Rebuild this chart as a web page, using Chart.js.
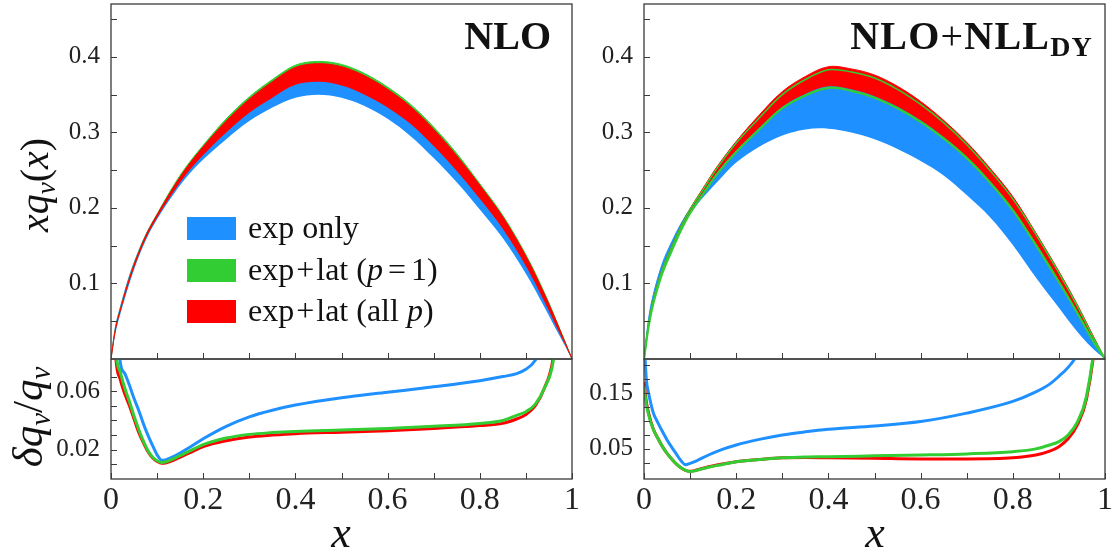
<!DOCTYPE html>
<html>
<head>
<meta charset="utf-8">
<script src="https://cdn.jsdelivr.net/npm/chart.js@4.4.1/dist/chart.umd.min.js"></script>
<style>
  body { margin: 0; background: #fff; }
  #wrap { position: relative; width: 1112px; height: 548px; overflow: hidden; font-family: 'Liberation Serif', serif; color: #111; }
  canvas { position: absolute; }
  .txt { position: absolute; white-space: nowrap; line-height: 1; }
  .sw { position: absolute; width: 49px; height: 23px; }
  .op { margin: 0 2px; }
  .rel { margin: 0 5px; }
</style>
</head>
<body>
<div id="wrap">
  <canvas id="tl" width="580" height="362" style="left:0;top:0"></canvas>
  <canvas id="tr" width="556" height="362" style="left:556px;top:0"></canvas>
  <canvas id="bl" width="580" height="192" style="left:0;top:356px"></canvas>
  <canvas id="br" width="556" height="192" style="left:556px;top:356px"></canvas>

  <div class="txt" style="right:561px;top:16px;font-size:40px;font-weight:bold">NLO</div>
  <div class="txt" style="right:19px;top:16px;font-size:40px;font-weight:bold;letter-spacing:1.2px">NLO<span style="font-weight:normal">+</span>NLL<sub style="font-size:28px;vertical-align:-7px">DY</sub></div>

  <div class="txt" style="left:37px;top:185px;font-size:40px;font-style:italic;transform:translate(-50%,-50%) rotate(-90deg)">xq<sub style="font-size:27px;vertical-align:-7px">v</sub><span style="font-style:normal">(</span>x<span style="font-style:normal">)</span></div>
  <div class="txt" style="left:30px;top:417px;font-size:43px;font-style:italic;transform:translate(-50%,-50%) rotate(-90deg)">δq<sub style="font-size:29px;vertical-align:-8px">v</sub><span style="font-style:normal">/</span>q<sub style="font-size:29px;vertical-align:-8px">v</sub></div>
  <div class="txt" style="left:341px;top:533px;font-size:44px;font-style:italic;transform:translate(-50%,-50%)">x</div>
  <div class="txt" style="left:875px;top:533px;font-size:44px;font-style:italic;transform:translate(-50%,-50%)">x</div>

  <div id="legend"></div>
</div>

<script>
const BLUE = '#1E90FF', GREEN = '#32CD32', RED = '#FF0000';

// x grid of the xq_v(x) bands
const xTop = [0, 0.01, 0.02, 0.04, 0.06, 0.08, 0.1, 0.13, 0.16, 0.2, 0.25, 0.3, 0.35, 0.4, 0.45, 0.5, 0.55, 0.6, 0.65, 0.7, 0.75, 0.8, 0.85, 0.9, 0.94, 0.97, 1];

// NLO bands
const nloExpLo = [0, 0.035, 0.059, 0.100, 0.135, 0.163, 0.185, 0.213, 0.238, 0.264, 0.291, 0.315, 0.333, 0.346, 0.350, 0.346, 0.335, 0.318, 0.295, 0.266, 0.234, 0.198, 0.160, 0.113, 0.069, 0.034, 0];
const nloExpHi = [0, 0.044, 0.068, 0.110, 0.143, 0.170, 0.190, 0.220, 0.247, 0.277, 0.309, 0.337, 0.359, 0.377, 0.381, 0.377, 0.365, 0.347, 0.325, 0.295, 0.261, 0.223, 0.182, 0.131, 0.082, 0.042, 0];
const nloP1Lo = [0, 0.039, 0.063, 0.104, 0.138, 0.166, 0.188, 0.217, 0.243, 0.271, 0.301, 0.327, 0.347, 0.364, 0.368, 0.363, 0.351, 0.334, 0.312, 0.283, 0.250, 0.213, 0.173, 0.124, 0.077, 0.039, 0];
const nloP1Hi = [0, 0.042, 0.066, 0.108, 0.142, 0.170, 0.192, 0.224, 0.252, 0.283, 0.318, 0.347, 0.370, 0.389, 0.394, 0.390, 0.378, 0.360, 0.337, 0.307, 0.272, 0.232, 0.190, 0.138, 0.088, 0.045, 0];
const nloAllLo = [0, 0.038, 0.062, 0.103, 0.137, 0.165, 0.187, 0.216, 0.242, 0.270, 0.300, 0.326, 0.346, 0.363, 0.367, 0.362, 0.350, 0.333, 0.311, 0.282, 0.249, 0.212, 0.172, 0.123, 0.076, 0.038, 0];
const nloAllHi = [0, 0.041, 0.065, 0.107, 0.141, 0.169, 0.191, 0.222, 0.250, 0.281, 0.315, 0.344, 0.367, 0.386, 0.391, 0.387, 0.375, 0.357, 0.334, 0.304, 0.269, 0.230, 0.188, 0.136, 0.086, 0.044, 0];

// NLO+NLL_DY bands
const nllExpLo = [0, 0.043, 0.073, 0.114, 0.143, 0.170, 0.192, 0.215, 0.235, 0.260, 0.281, 0.296, 0.304, 0.305, 0.300, 0.291, 0.278, 0.262, 0.243, 0.217, 0.188, 0.151, 0.108, 0.068, 0.036, 0.016, 0];
const nllExpHi = [0, 0.054, 0.085, 0.127, 0.155, 0.179, 0.199, 0.225, 0.251, 0.279, 0.309, 0.337, 0.354, 0.364, 0.360, 0.351, 0.337, 0.319, 0.297, 0.271, 0.239, 0.202, 0.156, 0.107, 0.066, 0.033, 0];
const nllP1Lo = [0, 0.043, 0.073, 0.114, 0.143, 0.170, 0.193, 0.220, 0.246, 0.274, 0.304, 0.332, 0.349, 0.359, 0.355, 0.346, 0.332, 0.314, 0.292, 0.266, 0.234, 0.197, 0.151, 0.102, 0.061, 0.028, 0];
const nllP1Hi = [0, 0.046, 0.077, 0.119, 0.148, 0.175, 0.198, 0.226, 0.254, 0.286, 0.319, 0.350, 0.370, 0.383, 0.380, 0.372, 0.357, 0.337, 0.313, 0.284, 0.250, 0.212, 0.165, 0.114, 0.070, 0.034, 0];
const nllAllLo = [0, 0.045, 0.075, 0.116, 0.145, 0.172, 0.195, 0.222, 0.248, 0.276, 0.306, 0.334, 0.351, 0.361, 0.357, 0.348, 0.334, 0.316, 0.294, 0.268, 0.236, 0.199, 0.153, 0.104, 0.063, 0.030, 0];
const nllAllHi = [0, 0.047, 0.078, 0.120, 0.149, 0.176, 0.199, 0.228, 0.256, 0.288, 0.323, 0.354, 0.374, 0.387, 0.384, 0.376, 0.361, 0.341, 0.316, 0.287, 0.253, 0.215, 0.167, 0.116, 0.072, 0.036, 0];

// x grid of the relative errors
const xLow = [0, 0.005, 0.01, 0.02, 0.03, 0.04, 0.05, 0.06, 0.07, 0.08, 0.09, 0.1, 0.11, 0.12, 0.14, 0.17, 0.2, 0.25, 0.3, 0.35, 0.4, 0.5, 0.6, 0.7, 0.8, 0.85, 0.88, 0.9, 0.92, 0.94, 0.96, 0.98, 1];

const nloExpRel = [0.3, 0.2, 0.13, 0.08, 0.072, 0.064, 0.055, 0.047, 0.038, 0.030, 0.023, 0.0165, 0.0128, 0.0132, 0.016, 0.0215, 0.0275, 0.036, 0.0425, 0.047, 0.0505, 0.0555, 0.0593, 0.063, 0.0672, 0.070, 0.072, 0.075, 0.081, 0.095, 0.12, 0.2, 0.4];
const nloP1Rel = [0.3, 0.14, 0.09, 0.073, 0.062, 0.053, 0.043, 0.034, 0.026, 0.0195, 0.015, 0.0125, 0.0113, 0.0118, 0.0145, 0.019, 0.0235, 0.028, 0.0305, 0.0317, 0.0325, 0.0335, 0.0345, 0.036, 0.038, 0.040, 0.0435, 0.046, 0.051, 0.062, 0.082, 0.15, 0.4];
const nloAllRel = [0.3, 0.13, 0.085, 0.068, 0.058, 0.050, 0.041, 0.032, 0.025, 0.0188, 0.0145, 0.012, 0.0107, 0.0111, 0.0135, 0.0178, 0.0222, 0.0262, 0.0287, 0.030, 0.031, 0.032, 0.033, 0.0345, 0.0365, 0.038, 0.041, 0.044, 0.050, 0.062, 0.085, 0.16, 0.4];

const nllExpRel = [0.25, 0.175, 0.150, 0.115, 0.097, 0.081, 0.066, 0.053, 0.041, 0.029, 0.0215, 0.024, 0.027, 0.031, 0.039, 0.049, 0.057, 0.067, 0.075, 0.0805, 0.085, 0.091, 0.099, 0.114, 0.135, 0.152, 0.166, 0.180, 0.196, 0.22, 0.27, 0.35, 0.5];
const nllP1Rel = [0.162, 0.13, 0.111, 0.085, 0.069, 0.054, 0.042, 0.032, 0.023, 0.016, 0.0115, 0.0095, 0.0105, 0.013, 0.017, 0.022, 0.027, 0.031, 0.034, 0.0355, 0.036, 0.0375, 0.039, 0.041, 0.045, 0.050, 0.057, 0.063, 0.075, 0.098, 0.145, 0.26, 0.5];
const nllAllRel = [0.17, 0.135, 0.114, 0.086, 0.069, 0.054, 0.042, 0.032, 0.023, 0.016, 0.0115, 0.0098, 0.011, 0.0135, 0.018, 0.023, 0.027, 0.031, 0.034, 0.0345, 0.034, 0.033, 0.032, 0.032, 0.034, 0.039, 0.046, 0.054, 0.068, 0.093, 0.14, 0.255, 0.5];

// ticks and tick labels
const topYTicks = [0.05, 0.1, 0.15, 0.2, 0.25, 0.3, 0.35, 0.4, 0.45];
const topYLabels = ['0.1', '0.2', '0.3', '0.4'];
const xTicks = [0, 0.1, 0.2, 0.3, 0.4, 0.5, 0.6, 0.7, 0.8, 0.9, 1];
const xLabels = ['0', '0.2', '0.4', '0.6', '0.8', '1'];
const nloLowYTicks = [0.01, 0.02, 0.03, 0.04, 0.05, 0.06, 0.07];
const nloLowYLabels = ['0.02', '0.06'];
const nllLowYTicks = [0.025, 0.05, 0.075, 0.1, 0.125, 0.15, 0.175, 0.2];
const nllLowYLabels = ['0.05', '0.15'];

const legendItems = [
  { color: BLUE, html: 'exp only' },
  { color: GREEN, html: 'exp<span class="op">+</span>lat (<i>p</i><span class="rel">=</span>1)' },
  { color: RED, html: 'exp<span class="op">+</span>lat (all <i>p</i>)' }
];

const pts = (xs, ys) => xs.map((x, i) => ({ x: x, y: ys[i] }));

// band edges use a smooth spline, the ratio lines stay monotone between points
const smooth = { cubicInterpolationMode: 'default', tension: 0.35 };

function bandSets(lo, hi, color, order, base) {
  return [
    { data: pts(xTop, lo), borderColor: 'transparent', borderWidth: 1, fill: false, order: order, ...smooth },
    { data: pts(xTop, hi), borderColor: color, borderWidth: 1, backgroundColor: color, fill: { target: base }, order: order, ...smooth }
  ];
}

function lineSet(xs, ys, color, order) {
  return { data: pts(xs, ys), borderColor: color, borderWidth: 3, fill: false, order: order, clip: 0 };
}

// frame with inward ticks on the left and bottom sides
const frame = {
  id: 'frame',
  afterDraw(chart) {
    const { ctx, chartArea: a } = chart;
    const x = chart.scales.x, y = chart.scales.y;
    ctx.save();
    ctx.strokeStyle = '#3a3a3a';
    ctx.lineWidth = 1.3;
    ctx.strokeRect(a.left, a.top, a.right - a.left, a.bottom - a.top);
    ctx.beginPath();
    x.ticks.forEach(t => {
      const px = Math.round(x.getPixelForValue(t.value)) + 0.5;
      ctx.moveTo(px, a.bottom); ctx.lineTo(px, a.bottom - 6);
    });
    y.ticks.forEach(t => {
      const py = Math.round(y.getPixelForValue(t.value)) + 0.5;
      ctx.moveTo(a.left, py); ctx.lineTo(a.left + 6, py);
    });
    ctx.lineWidth = 1;
    ctx.stroke();
    ctx.restore();
  }
};

const pick = labels => v => labels.find(l => Math.abs(parseFloat(l) - v) < 1e-9) || '';

function makeChart(id, datasets, cfg) {
  return new Chart(document.getElementById(id), {
    type: 'line',
    data: { datasets: datasets },
    options: {
      responsive: false,
      animation: false,
      devicePixelRatio: 1,
      layout: { padding: cfg.padding, autoPadding: false },
      elements: { point: { radius: 0 }, line: { cubicInterpolationMode: 'monotone' } },
      plugins: { legend: { display: false }, tooltip: { enabled: false }, filler: { propagate: false } },
      scales: {
        x: {
          type: 'linear', min: 0, max: 1,
          afterBuildTicks: s => { s.ticks = cfg.xTicks.map(v => ({ value: v })); },
          afterFit: s => { s.height = cfg.xH; s.paddingLeft = 0; s.paddingRight = 0; },
          grid: { display: false, drawTicks: false },
          border: { display: false },
          ticks: { display: !!cfg.xLabels, autoSkip: false, maxRotation: 0, padding: 2, color: '#222',
                   font: { family: 'Liberation Serif', size: 32 },
                   callback: cfg.xLabels ? pick(cfg.xLabels) : () => '' }
        },
        y: {
          type: 'linear', min: cfg.yMin, max: cfg.yMax,
          afterBuildTicks: s => { s.ticks = cfg.yTicks.map(v => ({ value: v })); },
          afterFit: s => { s.width = cfg.yW; s.paddingTop = 0; s.paddingBottom = 0; },
          grid: { display: false, drawTicks: false },
          border: { display: false },
          ticks: { autoSkip: false, padding: 11, color: '#222', font: { family: 'Liberation Serif', size: 25 },
                   callback: pick(cfg.yLabels) }
        }
      }
    },
    plugins: [frame]
  });
}

// top left: NLO
makeChart('tl', [
  ...bandSets(nloExpLo, nloExpHi, BLUE, 3, 0),
  ...bandSets(nloP1Lo, nloP1Hi, GREEN, 2, 2),
  ...bandSets(nloAllLo, nloAllHi, RED, 1, 4)
], { padding: { top: 4, right: 8, bottom: 3, left: 0 }, yW: 111, xH: 0, xTicks: xTicks.slice(1, 10),
     yMin: 0, yMax: 0.47, yTicks: topYTicks, yLabels: topYLabels });

// top right: NLO+NLL_DY, the p=1 band shows as its two edges
makeChart('tr', [
  ...bandSets(nllExpLo, nllExpHi, BLUE, 3, 0),
  ...bandSets(nllAllLo, nllAllHi, RED, 2, 2),
  { data: pts(xTop, nllP1Lo), borderColor: GREEN, borderWidth: 2.2, fill: false, order: 1, ...smooth },
  { data: pts(xTop, nllP1Hi), borderColor: GREEN, borderWidth: 1.5, fill: false, order: 1, ...smooth }
], { padding: { top: 4, right: 7, bottom: 3, left: 0 }, yW: 88, xH: 0, xTicks: xTicks.slice(1, 10),
     yMin: 0, yMax: 0.47, yTicks: topYTicks, yLabels: topYLabels });

// bottom left
makeChart('bl', [
  lineSet(xLow, nloExpRel, BLUE, 3),
  lineSet(xLow, nloAllRel, RED, 2),
  lineSet(xLow, nloP1Rel, GREEN, 1)
], { padding: { top: 3, right: 8, bottom: 0, left: 0 }, yW: 111, xH: 69, xTicks: xTicks, xLabels: xLabels,
     yMin: 0, yMax: 0.082, yTicks: nloLowYTicks, yLabels: nloLowYLabels });

// bottom right
makeChart('br', [
  lineSet(xLow, nllExpRel, BLUE, 3),
  lineSet(xLow, nllAllRel, RED, 2),
  lineSet(xLow, nllP1Rel, GREEN, 1)
], { padding: { top: 3, right: 7, bottom: 0, left: 0 }, yW: 88, xH: 69, xTicks: xTicks, xLabels: xLabels,
     yMin: -0.004, yMax: 0.211, yTicks: nllLowYTicks, yLabels: nllLowYLabels });

// legend inside the NLO panel
const legend = document.getElementById('legend');
legendItems.forEach((item, i) => {
  const top = 217 + i * 41.5;
  const sw = document.createElement('div');
  sw.className = 'sw';
  sw.style.cssText = 'left:187px;top:' + top + 'px;background:' + item.color;
  legend.appendChild(sw);
  const t = document.createElement('div');
  t.className = 'txt';
  t.style.cssText = 'left:248px;top:' + (top - 6) + 'px;font-size:32px';
  t.innerHTML = item.html;
  legend.appendChild(t);
});
</script>
</body>
</html>
